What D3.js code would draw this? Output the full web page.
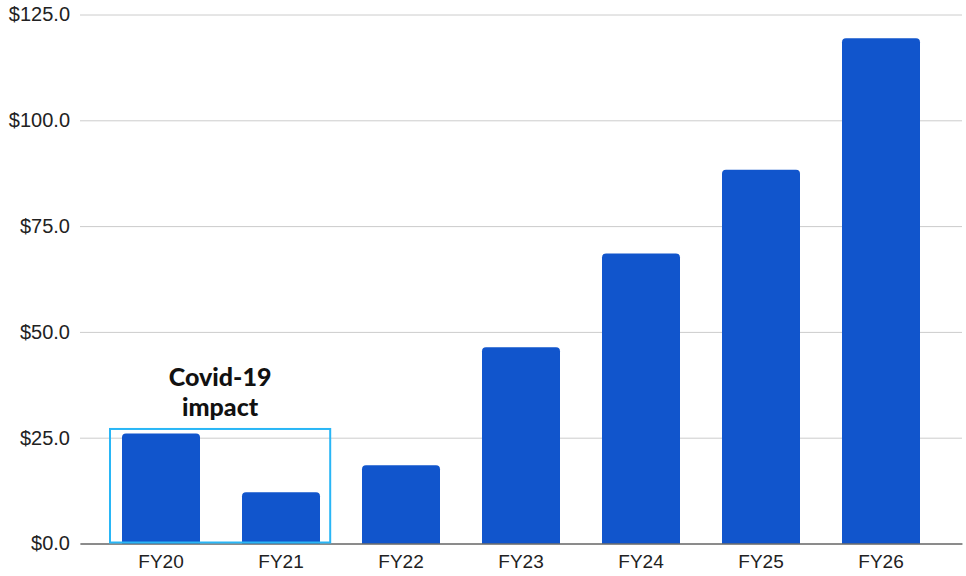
<!DOCTYPE html>
<html>
<head>
<meta charset="utf-8">
<script src="https://cdn.jsdelivr.net/npm/d3@7"></script>
<style>
  body { margin: 0; background: #fff; }
  svg { display: block; }
</style>
</head>
<body>
<svg width="966" height="576"></svg>
<script>
const years = ['FY20', 'FY21', 'FY22', 'FY23', 'FY24', 'FY25', 'FY26'];
const revenue = [26.0, 12.1, 18.5, 46.4, 68.5, 88.3, 119.4];
const yTicks = [0, 25, 50, 75, 100, 125];
const noteLines = ['Covid-19', 'impact'];
const noteYears = ['FY20', 'FY21'];

const svg = d3.select('svg');
const width = +svg.attr('width');
const height = +svg.attr('height');

const margin = { top: 14.5, right: 4, bottom: 32.5, left: 80 };
const innerWidth = width - margin.left - margin.right;
const innerHeight = height - margin.top - margin.bottom;

const xScale = d3.scaleBand()
  .domain(years)
  .range([0, innerWidth])
  .paddingInner(0.35)
  .paddingOuter(0.35);

const yScale = d3.scaleLinear()
  .domain([0, 125])
  .range([innerHeight, 0]);

const g = svg.append('g')
  .attr('transform', `translate(${margin.left}, ${margin.top})`);

// gridlines + y labels
const yAxis = g.append('g')
  .call(d3.axisLeft(yScale)
    .tickValues(yTicks)
    .tickSize(-innerWidth)
    .tickPadding(10)
    .tickFormat(d => '$' + d.toFixed(1)));
yAxis.select('.domain').remove();
yAxis.selectAll('line').attr('stroke', '#cccccc');
yAxis.selectAll('text')
  .attr('fill', '#222')
  .style('font-family', '"Liberation Sans", Arial, sans-serif')
  .style('font-size', '20px');

// bars, rounded on top only
const r = 4;
const barPath = d => {
  const x0 = xScale(d.year), w = xScale.bandwidth();
  const y0 = yScale(d.value), yb = yScale(0);
  return `M${x0},${yb}V${y0 + r}Q${x0},${y0} ${x0 + r},${y0}` +
    `H${x0 + w - r}Q${x0 + w},${y0} ${x0 + w},${y0 + r}V${yb}Z`;
};

g.selectAll('path.bar')
  .data(years.map((year, i) => ({ year, value: revenue[i] })))
  .enter().append('path')
  .attr('class', 'bar')
  .attr('d', barPath)
  .attr('fill', '#1155cc');

// x axis
const xAxis = g.append('g')
  .attr('transform', `translate(0, ${innerHeight})`)
  .call(d3.axisBottom(xScale).tickSize(0).tickPadding(11));
xAxis.select('.domain').attr('stroke', '#333').attr('stroke-width', 1.2);
xAxis.selectAll('text')
  .attr('fill', '#222')
  .style('font-family', '"Liberation Sans", Arial, sans-serif')
  .style('font-size', '19px');

// covid annotation
const step = xScale.step();
const boxX0 = xScale(noteYears[0]) - step * 0.1;
const boxX1 = xScale(noteYears[1]) + xScale.bandwidth() + step * 0.085;
const boxTop = yScale(d3.max(revenue.slice(0, 2))) - 4.5;
g.append('rect')
  .attr('x', boxX0)
  .attr('y', boxTop)
  .attr('width', boxX1 - boxX0)
  .attr('height', yScale(0) - boxTop - 1)
  .attr('fill', 'none')
  .attr('stroke', '#29b6f6')
  .attr('stroke-width', 2);

g.append('text')
  .attr('x', (boxX0 + boxX1) / 2)
  .attr('y', boxTop - 43)
  .attr('text-anchor', 'middle')
  .style('font-family', 'Lato, sans-serif')
  .style('font-weight', 900)
  .style('font-size', '25px')
  .attr('fill', '#111')
  .selectAll('tspan')
  .data(noteLines)
  .enter().append('tspan')
  .attr('x', (boxX0 + boxX1) / 2)
  .attr('dy', (d, i) => i === 0 ? 0 : 30)
  .text(d => d);
</script>
</body>
</html>
